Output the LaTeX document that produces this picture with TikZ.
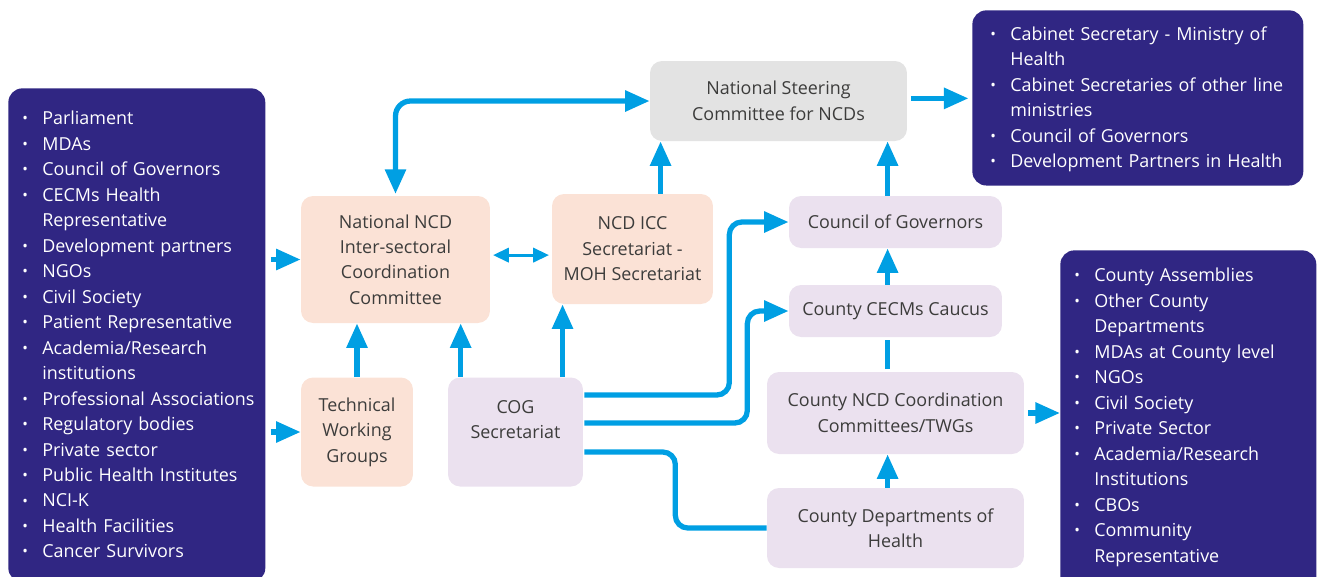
\documentclass[tikz,border=0pt]{standalone}
\usepackage{fontspec}
\setmainfont{Open Sans}
\usepackage{xcolor}
\usetikzlibrary{arrows.meta,positioning}

\definecolor{listblue}{HTML}{302683}
\definecolor{arrowblue}{HTML}{009FE3}
\definecolor{peach}{HTML}{FBE2D6}
\definecolor{lilac}{HTML}{EBE1EF}
\definecolor{steergrey}{HTML}{E3E3E3}
\definecolor{boxtext}{HTML}{3C3C3B}

\newcommand\litem[1]{\par\noindent\makebox[0.4cm][l]{\raisebox{0.1ex}{\fontsize{8.5}{8.5}\selectfont\textbullet}}\mbox{#1}}
\newcommand\lcont[1]{\par\noindent\hspace*{0.4cm}\mbox{#1}}

\begin{document}
\begin{tikzpicture}[x=0.02cm, y=-0.02cm,
    font=\fontsize{10.2}{14.5}\selectfont,
    >={Triangle[length=14pt,width=11.5pt]},
    box/.style={rectangle, rounded corners=0.24cm, text=boxtext, align=center, inner sep=0pt},
    natbox/.style={box, fill=peach},
    cntbox/.style={box, fill=lilac},
    stebox/.style={box, fill=steergrey},
    listbox/.style={rectangle, rounded corners=0.28cm, fill=listblue, text=white, align=left, anchor=north west, inner xsep=0.28cm},
    arrow/.style={->, line width=3pt, draw=arrowblue},
    link/.style={line width=3pt, draw=arrowblue},
    twoway/.style={{Triangle[length=9pt,width=8pt]}-{Triangle[length=9pt,width=8pt]}, line width=1.8pt, draw=arrowblue}]

    \useasboundingbox (0,0) rectangle (1317,576);

    % stakeholder lists
    \node[listbox, text width=4.58cm, inner ysep=0.22cm] (stake) at (8,88) {%
        \litem{Parliament}\litem{MDAs}\litem{Council of Governors}%
        \litem{CECMs Health}\lcont{Representative}\litem{Development partners}%
        \litem{NGOs}\litem{Civil Society}\litem{Patient Representative}%
        \litem{Academia/Research}\lcont{institutions}\litem{Professional Associations}%
        \litem{Regulatory bodies}\litem{Private sector}\litem{Public Health Institutes}%
        \litem{NCI-K}\litem{Health Facilities}\litem{Cancer Survivors}\par\vspace*{0.26cm}};
    \node[listbox, text width=5.9cm, inner xsep=0.36cm, inner ysep=0.09cm] (gov) at (972,10) {%
        \litem{Cabinet Secretary - Ministry of}\lcont{Health}%
        \litem{Cabinet Secretaries of other line}\lcont{ministries}%
        \litem{Council of Governors}\litem{Development Partners in Health}\par\vspace*{0.18cm}};
    \node[listbox, text width=4.56cm, inner ysep=0.12cm] (cntlist) at (1060,250) {%
        \litem{County Assemblies}\litem{Other County}\lcont{Departments}%
        \litem{MDAs at County level}\litem{NGOs}\litem{Civil Society}%
        \litem{Private Sector}\litem{Academia/Research}\lcont{Institutions}%
        \litem{CBOs}\litem{Community}\lcont{Representative}\par\vspace*{0.6cm}};

    % national level
    \node[stebox, minimum width=5.14cm, minimum height=1.6cm] (steer) at (778.5,101) {National Steering\\Committee for NCDs};
    \node[natbox, minimum width=3.78cm, minimum height=2.54cm] (natl) at (395.5,259.5) {National NCD\\Inter-sectoral\\Coordination\\Committee};
    \node[natbox, minimum width=3.22cm, minimum height=2.2cm] (icc) at (632.5,249) {NCD ICC\\Secretariat -\\MOH Secretariat};
    \node[natbox, minimum width=2.24cm, minimum height=2.18cm] (twg) at (357,432) {Technical\\Working\\Groups};
    \node[cntbox, minimum width=2.7cm, minimum height=2.18cm] (cog) at (515.5,432) {COG\\Secretariat\\\mbox{}};

    % county level
    \node[cntbox, minimum width=4.26cm, minimum height=1.04cm] (council) at (895.5,222) {Council of Governors};
    \node[cntbox, minimum width=4.26cm, minimum height=1.04cm] (caucus) at (895.5,311) {County CECMs Caucus};
    \node[cntbox, minimum width=5.14cm, minimum height=1.64cm] (cnty) at (895.5,413) {County NCD Coordination\\Committees/TWGs};
    \node[cntbox, minimum width=5.14cm, minimum height=1.6cm] (dept) at (895.5,528) {County Departments of\\Health};

    % connectors
    \draw[arrow, shorten <=3pt] (stake.east |- natl.west) -- (natl.west);
    \draw[arrow, shorten <=3pt] (stake.east |- twg.west) -- (twg.west);
    \draw[arrow] (twg.north) -- (twg.north |- natl.south);
    \draw[arrow] ([xshift=7.4pt]cog.north west) -- ([xshift=7.4pt]cog.north west |- natl.south);
    \draw[arrow] ([xshift=6.2pt]icc.south west |- cog.north) -- ([xshift=6.2pt]icc.south west);
    \draw[twoway, shorten <=1.5pt, shorten >=1.5pt] ([yshift=2.5pt]natl.east) -- ([yshift=2.5pt]natl.east -| icc.west);
    \draw[arrow, <->, rounded corners=0.3cm, shorten <=1pt] (natl.north) |- (steer.west);
    \draw[arrow] ([xshift=6.2pt]steer.south west |- icc.north) -- ([xshift=6.2pt]steer.south west);
    \draw[arrow, shorten <=2pt, shorten >=2pt] ([yshift=1.5pt]steer.east) -- ([yshift=1.5pt]steer.east -| gov.west);

    \draw[arrow] ([xshift=-4.5pt]council.north) -- ([xshift=-4.5pt]council.north |- steer.south);
    \draw[arrow] ([xshift=-4.5pt]caucus.north) -- ([xshift=-4.5pt]caucus.north |- council.south);
    \draw[link, shorten <=1.5pt, shorten >=1.5pt] ([xshift=-4.5pt]cnty.north) -- ([xshift=-4.5pt]cnty.north |- caucus.south);
    \draw[arrow] ([xshift=-4.5pt]dept.north) -- ([xshift=-4.5pt]dept.north |- cnty.south);
    \draw[arrow, shorten <=2pt] (cnty.east) -- (cnty.east -| cntlist.west);

    \draw[arrow, rounded corners=0.25cm] ([shift={(1,-37)}]cog.east) -- ++(145,0) |- (council.west);
    \draw[arrow, rounded corners=0.25cm] ([shift={(1,-9)}]cog.east) -- ++(163,0) |- (caucus.west);
    \draw[link, rounded corners=0.25cm] ([shift={(1,20)}]cog.east) -- ++(91,0) |- (dept.west);
\end{tikzpicture}
\end{document}
